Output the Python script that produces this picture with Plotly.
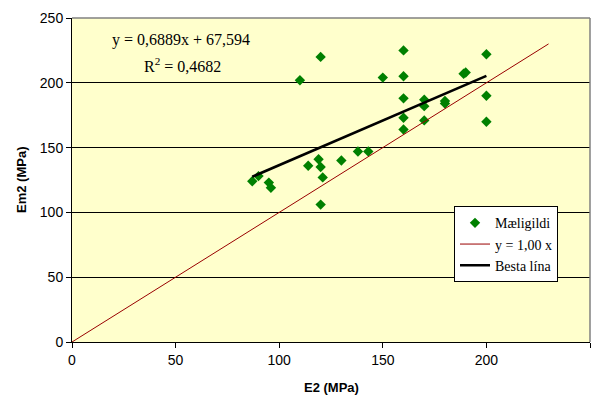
import plotly.graph_objects as go

# Measured values: E2 vs Em2 (MPa)
e2 = [87, 90, 95, 96, 110, 114, 119, 120, 120, 121, 120, 130, 138, 143, 150,
      160, 160, 160, 160, 160, 170, 170, 170, 180, 180, 189, 190, 200, 200, 200]
em2 = [124, 128, 123, 119, 202, 136, 141, 135, 220, 127, 106, 140, 147, 147, 204,
       225, 205, 188, 173, 164, 187, 182, 171, 186, 184, 207, 208, 222, 190, 170]

# Reference line y = x
ref_x = [0, 230]

# Least-squares fit coefficients
slope = 0.6889
intercept = 67.594
r_squared = 0.4682

x_ticks = [0, 50, 100, 150, 200, 250]
y_ticks = [0, 50, 100, 150, 200, 250]

fit_x = [min(e2), max(e2)]
fit_y = [slope * v + intercept for v in fit_x]

serif = "Liberation Serif"
sans = "Liberation Sans"

W, H = 600, 398
L, R, T, B = 72, 10, 15, 56
pw, ph = W - L - R, H - T - B


def px_x(p):
    return (p - L) / pw


def px_y(p):
    return (H - B - p) / ph


fig = go.Figure()
fig.add_trace(go.Scatter(
    x=e2, y=em2, mode="markers", name="Mæligildi",
    marker=dict(symbol="diamond", size=8, color="#008000", line=dict(width=0)),
))
fig.add_trace(go.Scatter(
    x=ref_x, y=ref_x, mode="lines", name="y = 1,00 x",
    line=dict(color="#990000", width=1),
))
fig.add_trace(go.Scatter(
    x=fit_x, y=fit_y, mode="lines", name="Besta lína",
    line=dict(color="black", width=2.6),
))

fmt = lambda v: f"{v}".replace(".", ",")
fig.add_annotation(
    x=px_x(181), y=px_y(37), xref="paper", yref="paper", showarrow=False,
    xanchor="center", yanchor="middle",
    text=f"y = {fmt(slope)}x + {fmt(intercept)}",
    font=dict(family=serif, size=16, color="black"),
)
fig.add_annotation(
    x=px_x(182), y=px_y(62), xref="paper", yref="paper", showarrow=False,
    xanchor="center", yanchor="middle",
    text=f"R<sup>2</sup> = {fmt(r_squared)}",
    font=dict(family=serif, size=16, color="black"),
)

# axis titles
fig.add_annotation(
    x=0.5, y=px_y(388), xref="paper", yref="paper", showarrow=False,
    xanchor="center", yanchor="middle",
    text="<b>E2 (MPa)</b>", font=dict(family=sans, size=13, color="black"),
)
fig.add_annotation(
    x=px_x(21), y=0.5, xref="paper", yref="paper", showarrow=False,
    xanchor="center", yanchor="middle",
    text="<b>Em2 (MPa)</b>", textangle=-90,
    font=dict(family=sans, size=13, color="black"),
)

# plot-area frame in grey (top and right)
fig.add_shape(type="line", xref="paper", yref="paper", x0=0, x1=1, y0=1, y1=1,
              line=dict(color="#808080", width=1.5), layer="above")
fig.add_shape(type="line", xref="paper", yref="paper", x0=1, x1=1, y0=0, y1=1,
              line=dict(color="#808080", width=1.5), layer="above")

fig.update_layout(
    width=W, height=H,
    margin=dict(l=L, r=R, t=T, b=B),
    paper_bgcolor="white",
    plot_bgcolor="#FFFFCC",
    showlegend=True,
    legend=dict(
        x=px_x(454), y=px_y(205), xanchor="left", yanchor="top",
        bgcolor="white", bordercolor="black", borderwidth=1,
        font=dict(family=serif, size=14, color="black"),
        itemwidth=30,
    ),
    xaxis=dict(
        range=[0, 250], tickvals=x_ticks, ticktext=[str(v) for v in x_ticks],
        showgrid=False, zeroline=False,
        showline=True, linecolor="black", linewidth=1,
        ticks="outside", ticklen=5, tickcolor="black",
        tickfont=dict(family=sans, size=14, color="black"),
        fixedrange=True,
    ),
    yaxis=dict(
        range=[0, 250], tickvals=y_ticks, ticktext=[str(v) for v in y_ticks],
        showgrid=True, gridcolor="black", gridwidth=1, zeroline=False,
        showline=True, linecolor="black", linewidth=1,
        ticks="outside", ticklen=5, tickcolor="black",
        tickfont=dict(family=sans, size=14, color="black"),
        fixedrange=True,
    ),
)

fig.write_html("out.html")
